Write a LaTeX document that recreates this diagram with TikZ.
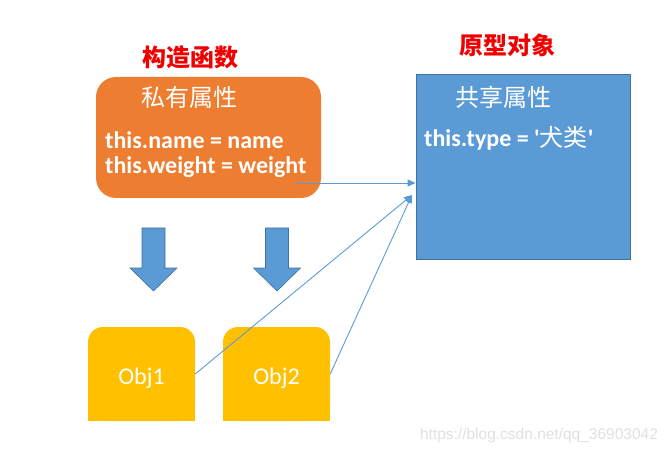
\documentclass[tikz,border=0pt]{standalone}
\usepackage{fontspec}
\setmainfont{Carlito}
\newfontfamily\cjk{Noto Sans CJK SC}
\newfontfamily\wmfont{Liberation Sans}
\usetikzlibrary{arrows.meta}

\definecolor{ctororange}{HTML}{ED7D31}
\definecolor{protoblue}{HTML}{5B9BD5}
\definecolor{protoedge}{HTML}{41719C}
\definecolor{objyellow}{HTML}{FFC000}
\definecolor{headred}{HTML}{F00000}

\tikzset{
  headtext/.style={text=headred, font=\fontsize{24}{28}\selectfont\cjk\bfseries},
  boxlabel/.style={text=white, font=\fontsize{24}{28}\selectfont\cjk},
  codetext/.style={text=white, anchor=west, inner sep=0pt, font=\fontsize{24}{28}\selectfont\bfseries},
  ctorbox/.style={fill=ctororange, rounded corners=20pt, minimum width=225pt, minimum height=121pt},
  protobox/.style={fill=protoblue, draw=protoedge, line width=0.8pt, minimum width=214pt, minimum height=185pt},
  objbox/.style={fill=objyellow, rounded corners=15pt, minimum width=107pt, minimum height=94pt},
  objtext/.style={text=white, font=\fontsize{24}{28}\selectfont},
  downarrow/.style={fill=protoblue, draw=protoedge, line width=0.6pt},
  link/.style={draw=protoblue, line width=0.9pt, -{Triangle[length=8pt,width=7pt]}}
}

\begin{document}
\begin{tikzpicture}[x=1pt, y=-1pt]
  \useasboundingbox (0,0) rectangle (671,454);

  % constructor
  \node[headtext] (ctorhead) at (190,57) {构造函数};
  \node[ctorbox] (ctor) at (208.5,137.5) {};
  \node[boxlabel] (private) at (189,97) {私有属性};
  \node[codetext] (name) at (105,140) {this.name = name};
  \node[codetext] (weight) at (105,167) {this.weight = weight};

  % prototype
  \node[headtext] (protohead) at (507,45) {原型对象};
  \node[protobox] (proto) at (523,166.5) {};
  \node[boxlabel] (shared) at (503,97) {共享属性};
  \node[codetext] (type) at (424,138) {this.type = \textquotesingle{\cjk\mdseries 犬类}\textquotesingle};

  % instances
  \foreach \i/\x in {1/141.5, 2/276.5} {
    \node[objbox] (obj\i) at (\x,374) {};
    \fill[objyellow] (obj\i.west) rectangle (obj\i.south east);
    \node[objtext] (obj\i text) at (\x,378) {Obj\i};
  }

  \foreach \x in {153.5, 277} {
    \filldraw[downarrow] (\x-11.5,228) -- (\x+11.5,228) -- (\x+11.5,268) -- (\x+23.5,268)
      -- (\x,291) -- (\x-23.5,268) -- (\x-11.5,268) -- cycle;
  }

  \coordinate (start) at (295,183);
  \coordinate (tip) at (412,195);
  \draw[link] (start) -- (start -| proto.west);
  \draw[link] (obj1.east) -- (tip);
  \draw[link] (obj2.east) -- (tip);

  \node[text=black!12, font=\wmfont\fontsize{15.5}{18}\selectfont] (mark) at (539,435) {https://blog.csdn.net/qq\_36903042};
\end{tikzpicture}
\end{document}
